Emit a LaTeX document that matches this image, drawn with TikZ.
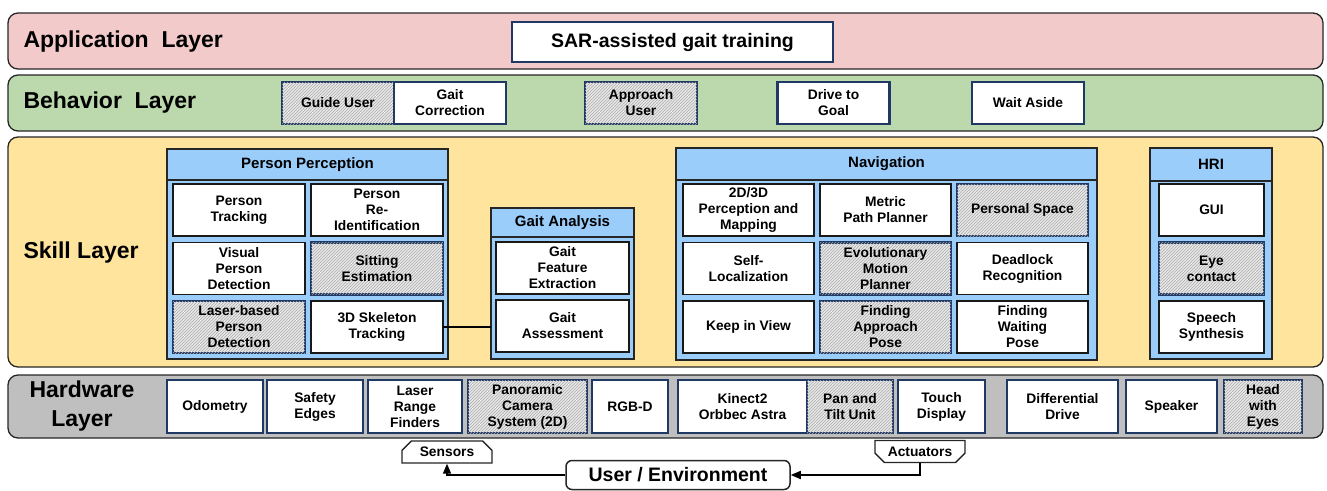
\documentclass[tikz,border=0pt]{standalone}
\usepackage{fontspec}
\setmainfont{Liberation Sans}
\usepackage{xcolor}
\usetikzlibrary{arrows.meta,positioning,patterns,shapes.misc}
\tikzset{>=Triangle}

\definecolor{appred}{RGB}{242,202,202}
\definecolor{behgreen}{RGB}{187,217,172}
\definecolor{skillyellow}{RGB}{255,228,158}
\definecolor{hwgray}{RGB}{191,191,191}
\definecolor{groupblue}{RGB}{155,205,250}
\definecolor{navy}{RGB}{31,56,100}

\begin{document}
\begin{tikzpicture}[
    x=1pt, y=-1pt,
    node distance=6.5pt and 6pt,
    layer/.style={draw=black!85, line width=1.3pt, rounded corners=10pt},
    layername/.style={anchor=west, font=\fontsize{23}{29}\selectfont\bfseries, align=center},
    box/.style={rectangle, draw=navy, line width=1.8pt, fill=white, align=center,
        inner sep=1pt, outer sep=0pt, font=\fontsize{13.8}{16}\selectfont\bfseries},
    shade/.style={draw=navy, line width=2.2pt, fill=gray!18,
        postaction={pattern=north east lines, pattern color=gray!65}},
    behavior/.style={box, line width=2.2pt, minimum width=112pt, minimum height=42pt},
    cell/.style={box, draw=black!90, line width=1.4pt, minimum height=52pt},
    ppcell/.style={cell, minimum width=132pt},
    gacell/.style={cell, minimum width=133pt},
    navcell/.style={cell, minimum width=131pt},
    hricell/.style={cell, minimum width=105pt},
    group/.style={rectangle, draw=black!85, line width=1.2pt, fill=groupblue,
        anchor=north west, inner sep=0, outer sep=0pt},
    header/.style={group, font=\fontsize{15}{18}\selectfont\bfseries},
    hw/.style={box, minimum height=53pt},
    tab/.style={chamfered rectangle, chamfered rectangle xsep=7pt, draw=black!85,
        line width=1.4pt, fill=white, minimum width=90pt, minimum height=22pt,
        inner sep=1pt, font=\fontsize{13.8}{16}\selectfont\bfseries},
    flow/.style={-{Triangle[length=10pt,width=8pt]}, line width=1.6pt}
]
    \useasboundingbox (0,0) rectangle (1327,490);

    % layers
    \draw[layer, fill=appred] (8,13) rectangle (1323,69);
    \draw[layer, fill=behgreen] (8,75) rectangle (1323,131);
    \draw[layer, fill=skillyellow] (8,137) rectangle (1323,367);
    \draw[layer, fill=hwgray] (8,375) rectangle (1323,438);

    \node[layername] (appname) at (20,42) {Application\ \ Layer};
    \node[layername] (behname) at (20,103) {Behavior\ \ Layer};
    \node[layername] (skillname) at (20,253) {Skill Layer};
    \node[layername, anchor=center] (hwname) at (82,406) {Hardware\\Layer};

    % application
    \node[box, minimum width=321pt, minimum height=40pt,
        font=\fontsize{19.5}{22}\selectfont\bfseries] (sar) at (672.5,42) {SAR-assisted gait training};

    % behaviors
    \node[behavior, shade] (guide) at (338,103) {Guide User};
    \node[behavior, right=0pt of guide] (correct) {Gait\\Correction};
    \node[behavior, shade] (approach) at (641,103) {Approach\\User};
    \node[behavior] (drive) at (833.5,103) {Drive to\\Goal};
    \node[behavior] (wait) at (1028,103) {Wait Aside};

    % person perception
    \node[group, minimum width=281pt, minimum height=210pt] (pp) at (167,149) {};
    \node[header, minimum width=281pt, minimum height=31pt] (pphead) at (pp.north west) {Person Perception};
    \node[ppcell, anchor=north west] (ptrack) at (173,184) {Person\\Tracking};
    \node[ppcell, right=of ptrack] (reid) {Person\\Re-\\Identification};
    \node[ppcell, below=of ptrack] (visual) {Visual\\Person\\Detection};
    \node[ppcell, shade, below=of reid] (sitting) {Sitting\\Estimation};
    \node[ppcell, shade, below=of visual] (laserdet) {Laser-based\\Person\\Detection};
    \node[ppcell, below=of sitting] (skeleton) {3D Skeleton\\Tracking};

    % gait analysis
    \node[group, minimum width=143pt, minimum height=151pt] (ga) at (491,208) {};
    \node[header, minimum width=143pt, minimum height=29pt] (gahead) at (ga.north west) {Gait Analysis};
    \node[gacell, anchor=north west] (feature) at (496,242) {Gait\\Feature\\Extraction};
    \node[gacell, below=6pt of feature] (assess) {Gait\\Assessment};

    \draw[line width=2.2pt] (skeleton.east) -- (ga.west |- skeleton.east);

    % navigation
    \node[group, minimum width=421pt, minimum height=212pt] (nav) at (676,148) {};
    \node[header, minimum width=421pt, minimum height=32pt] (navhead) at (nav.north west) {Navigation};
    \node[navcell, anchor=north west] (mapping) at (683,184) {2D/3D\\Perception and\\Mapping};
    \node[navcell, right=of mapping] (metric) {Metric\\Path Planner};
    \node[navcell, shade, right=of metric] (personal) {Personal Space};
    \node[navcell, below=of mapping] (selfloc) {Self-\\Localization};
    \node[navcell, shade, below=of metric] (evo) {Evolutionary\\Motion\\Planner};
    \node[navcell, below=of personal] (deadlock) {Deadlock\\Recognition};
    \node[navcell, below=of selfloc] (keep) {Keep in View};
    \node[navcell, shade, below=of evo] (findapp) {Finding\\Approach\\Pose};
    \node[navcell, below=of deadlock] (findwait) {Finding\\Waiting\\Pose};

    % hri
    \node[group, minimum width=122pt, minimum height=211pt] (hri) at (1150,148) {};
    \node[header, minimum width=122pt, minimum height=33pt] (hrihead) at (hri.north west) {HRI};
    \node[hricell, anchor=north west] (gui) at (1159,184) {GUI};
    \node[hricell, shade, below=of gui] (eye) {Eye\\contact};
    \node[hricell, below=of eye] (speech) {Speech\\Synthesis};

    % hardware
    \node[hw, minimum width=96pt, anchor=west] (odo) at (167,406.5) {Odometry};
    \node[hw, minimum width=96pt, right=4pt of odo] (safety) {Safety\\Edges};
    \node[hw, minimum width=94pt, right=5pt of safety] (laser) {Laser\\Range\\Finders};
    \node[hw, shade, minimum width=119pt, right=6pt of laser] (pano) {Panoramic\\Camera\\System (2D)};
    \node[hw, minimum width=76pt, right=5pt of pano] (rgbd) {RGB-D};
    \node[hw, minimum width=129pt, right=10pt of rgbd] (kinect) {Kinect2\\Orbbec Astra};
    \node[hw, shade, minimum width=86pt, right=0pt of kinect] (pantilt) {Pan and\\Tilt Unit};
    \node[hw, minimum width=87pt, right=5pt of pantilt] (touch) {Touch\\Display};
    \node[hw, minimum width=111pt, right=22pt of touch] (diffdrive) {Differential\\Drive};
    \node[hw, minimum width=91pt, right=8pt of diffdrive] (speaker) {Speaker};
    \node[hw, shade, minimum width=78pt, right=7pt of speaker] (head) {Head\\with\\Eyes};

    % user / environment
    \node[tab, chamfered rectangle corners={north west,north east}] (sensors) at (447,452) {Sensors};
    \node[tab, chamfered rectangle corners={south west,south east}] (actuators) at (920,451.5) {Actuators};
    \node[draw=black!85, line width=1.5pt, rounded corners=6pt, fill=white,
        minimum width=224pt, minimum height=29pt,
        font=\fontsize{19.5}{22}\selectfont\bfseries] (user) at (678,475) {User / Environment};

    \draw[flow] (user.west) -| (sensors.south);
    \draw[flow] (actuators.south) |- (user.east);
\end{tikzpicture}
\end{document}
